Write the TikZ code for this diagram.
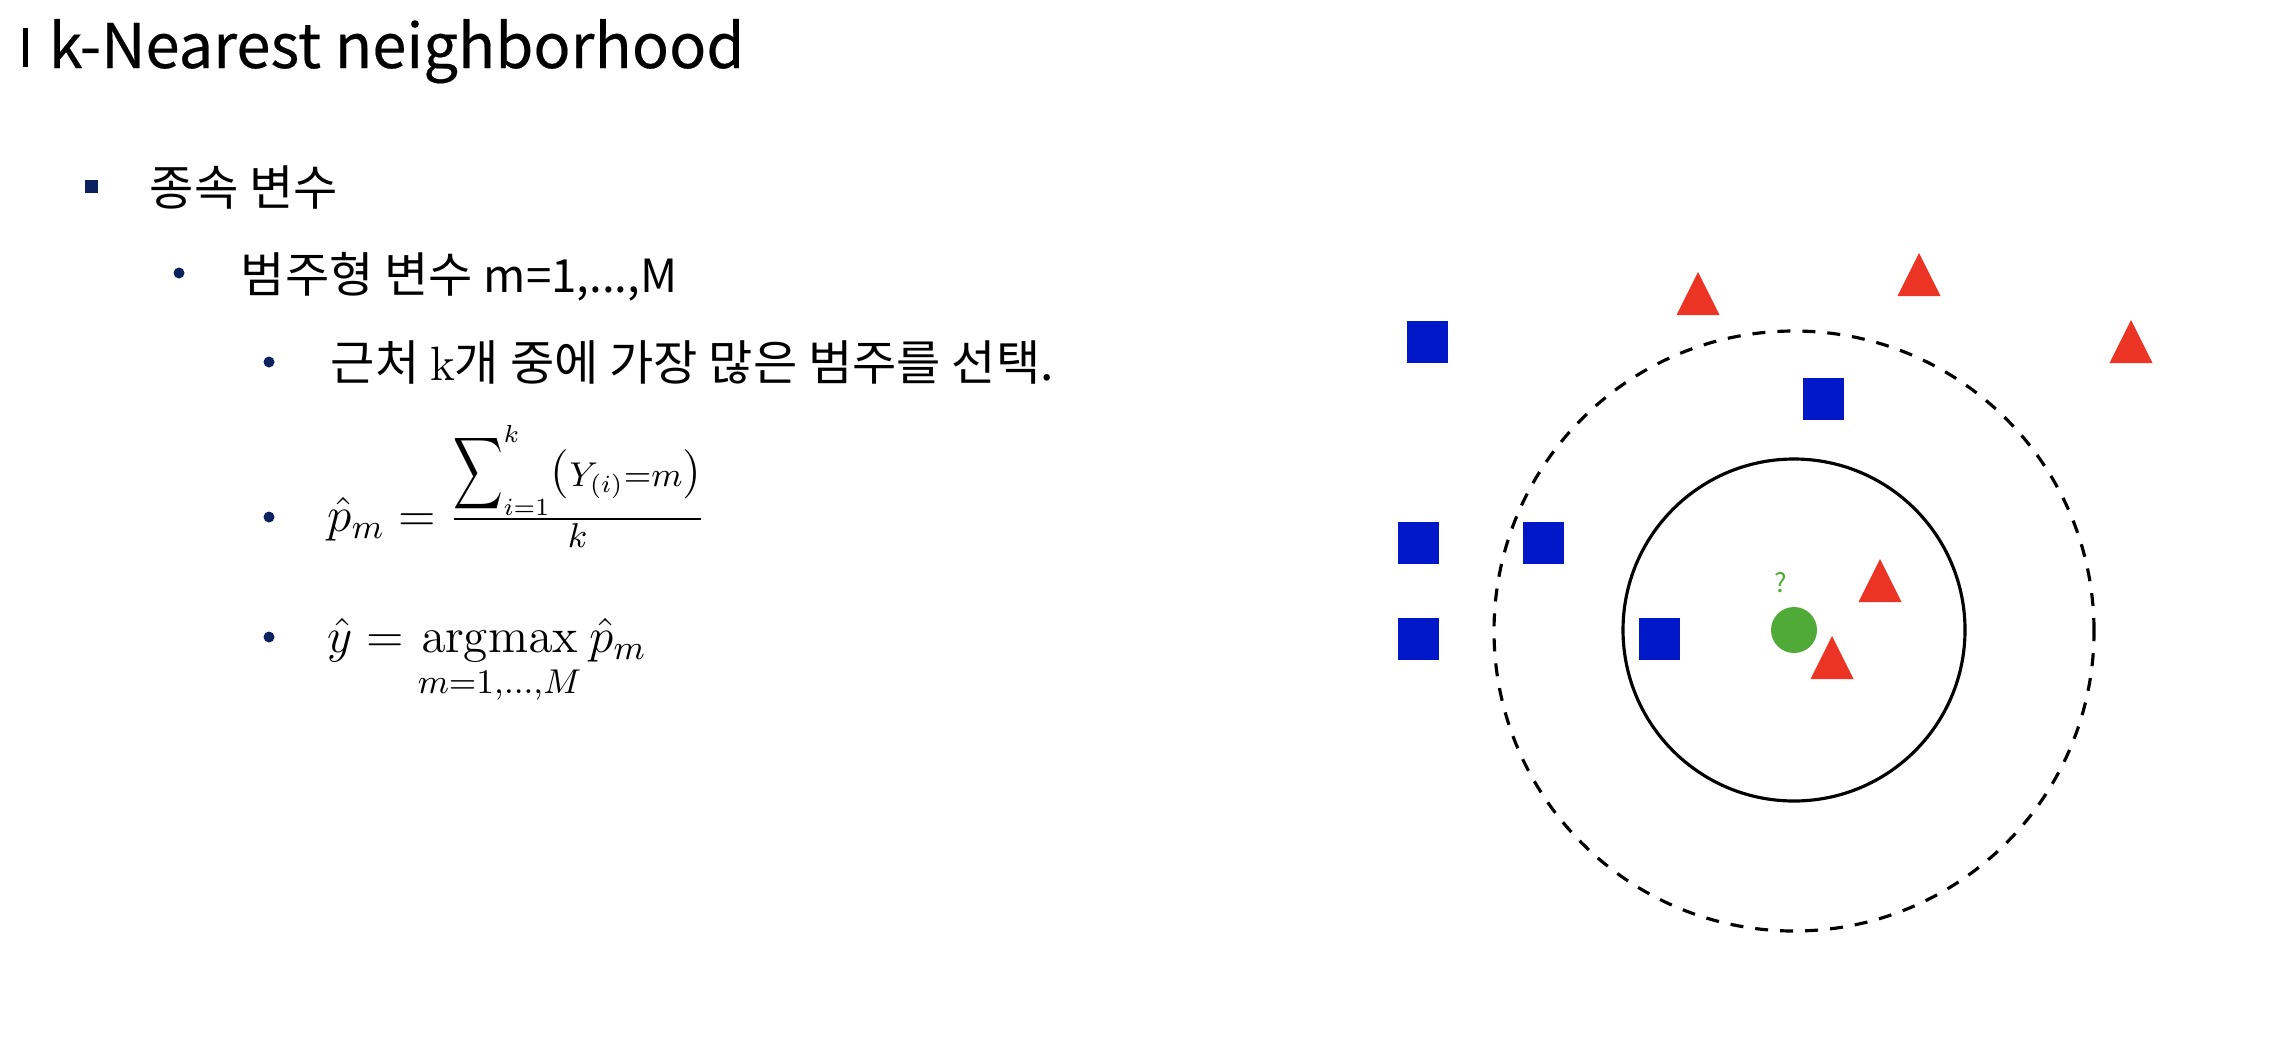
\RequirePackage{fix-cm}
\documentclass[tikz,border=0pt]{standalone}
\usepackage{amsmath,amssymb}
\usepackage{graphicx}
\usepackage[no-math]{fontspec}
\setmainfont{Noto Sans CJK KR}
\usepackage{tikz}
\usetikzlibrary{positioning}
\definecolor{navy}{RGB}{12,34,94}
\definecolor{ptblue}{RGB}{0,24,200}
\definecolor{ptred}{RGB}{236,52,36}
\definecolor{ptgreen}{RGB}{80,170,55}
\tikzset{
  bullsq/.style={fill=navy, minimum size=0.13cm, inner sep=0},
  bulldot/.style={circle, fill=navy, minimum size=0.11cm, inner sep=0},
  txt/.style={anchor=base west, inner sep=0, font=\fontsize{13.7}{16}\selectfont},
  mathtxt/.style={anchor=base west, inner sep=0, font=\fontsize{14}{17}\selectfont},
  bluesq/.style={fill=ptblue, minimum width=0.41cm, minimum height=0.42cm, inner sep=0},
}
\newcommand{\redtri}[2]{\fill[ptred, shift={(#1,#2)}] (-0.215,0) -- (0.215,0) -- (0,0.43) -- cycle;}
\newcommand{\lat}[1]{{\fontsize{13}{16}\selectfont #1}}
\newcommand{\narrowsum}{\mathop{\scalebox{0.7}[1.02]{$\displaystyle\sum$}}}

\begin{document}
\begin{tikzpicture}
    \useasboundingbox (0,0) rectangle (22.70,-10.42);
    % title
    \fill (0.23,-0.28) rectangle (0.28,-0.67);
    \node[anchor=base west, inner sep=0, font=\fontsize{17.5}{21}\selectfont\addfontfeature{FakeBold=0.3}] (title) at (0.48,-0.68) {k-Nearest neighborhood};
    % bullets
    \node[bullsq] (b1) at (0.91,-1.86) {};
    \node[txt] (dep) at (1.49,-2.05) {종속 변수};
    \node[bulldot] (b2) at (1.79,-2.73) {};
    \node[txt] (cat) at (2.40,-2.92) {범주형 변수 \lat{m=1,...,M}};
    \node[bulldot] (b3) at (2.69,-3.62) {};
    \node[txt] (vote) at (3.30,-3.80) {근처 $\mathrm{k}$개 중에 가장 많은 범주를 선택.};
    \node[bulldot] (b4) at (2.69,-5.17) {};
    \node[mathtxt] (phat) at (3.27,-5.31) {$\hat{p}_m = \frac{\narrowsum\nolimits_{i=1}^{k}\textstyle(\scriptstyle Y_{(i)}=m\textstyle)}{k}$};
    \node[bulldot] (b5) at (2.69,-6.37) {};
    \node[mathtxt] (yhat) at (3.27,-6.52) {$\displaystyle \hat{y} = \operatorname*{argmax}_{m=1,\ldots,M} \hat{p}_m$};
    % neighbourhoods
    \draw[line width=0.9pt, dash pattern=on 0.13cm off 0.12cm] (17.94,-6.31) circle (3.00cm);
    \draw[line width=0.9pt] (17.94,-6.30) circle (1.71cm);
    % points
    \node[bluesq] (s1) at (14.27,-3.42) {};
    \node[bluesq] (s2) at (18.23,-3.99) {};
    \node[bluesq] (s3) at (14.18,-5.43) {};
    \node[bluesq] (s4) at (15.43,-5.43) {};
    \node[bluesq] (s5) at (14.18,-6.39) {};
    \node[bluesq] (s6) at (16.59,-6.39) {};
    \redtri{16.98}{-3.15}
    \redtri{19.19}{-2.96}
    \redtri{21.31}{-3.63}
    \redtri{18.80}{-6.02}
    \redtri{18.32}{-6.79}
    \node[circle, fill=ptgreen, minimum size=0.46cm, inner sep=0] (q) at (17.94,-6.30) {};
    \node[text=ptgreen, font=\rmfamily\fontsize{7.5}{9}\selectfont, inner sep=0] (qm) at (17.81,-5.83) {?};
\end{tikzpicture}
\end{document}
